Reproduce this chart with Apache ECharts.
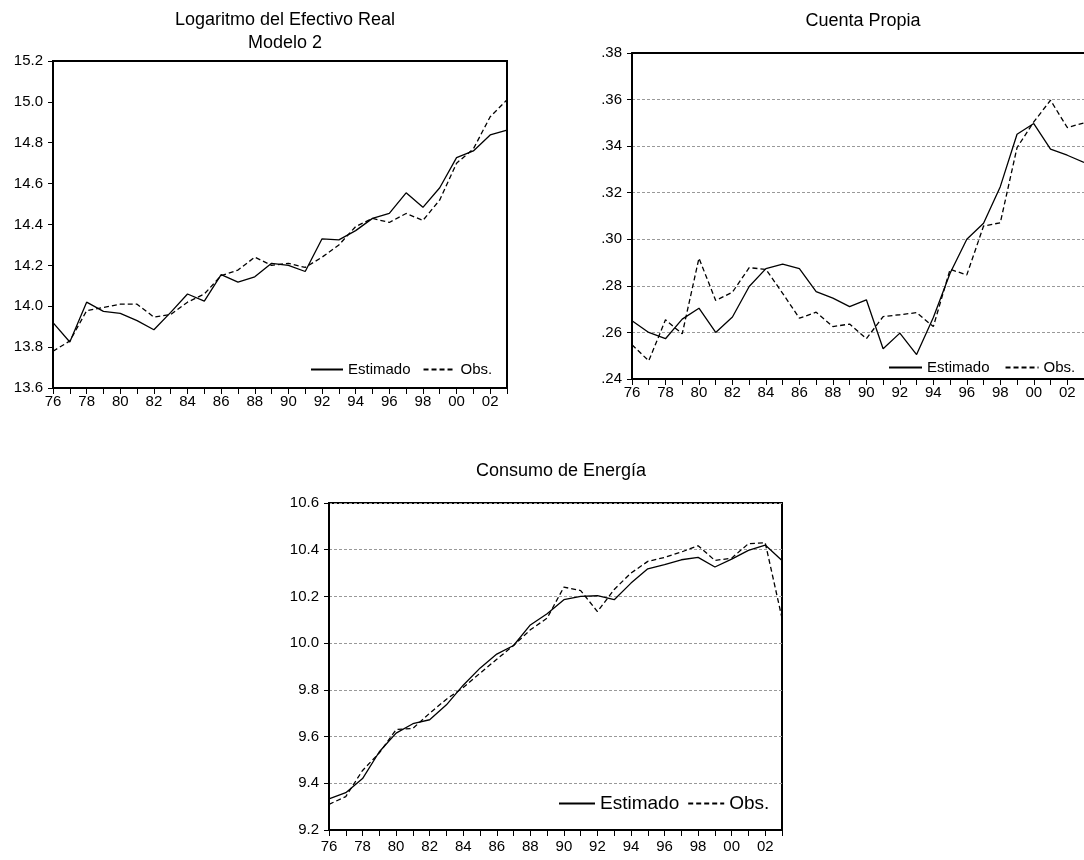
<!DOCTYPE html>
<html>
<head>
<meta charset="utf-8">
<script src="https://cdn.jsdelivr.net/npm/echarts@6/dist/echarts.min.js"></script>
<style>
html,body{margin:0;padding:0;background:#fff;}
#main{width:1084px;height:860px;}
</style>
</head>
<body>
<div id="main"></div>
<script>
var years = ['76','77','78','79','80','81','82','83','84','85','86','87','88','89','90','91','92','93','94','95','96','97','98','99','00','01','02','03'];

/* Logaritmo del Efectivo Real - Modelo 2 */
var efEst = [13.92,13.825,14.02,13.975,13.965,13.93,13.885,13.97,14.06,14.025,14.155,14.118,14.144,14.21,14.20,14.17,14.33,14.325,14.37,14.43,14.454,14.555,14.484,14.58,14.727,14.76,14.838,14.862];
var efObs = [13.78,13.83,13.978,13.994,14.01,14.01,13.947,13.96,14.02,14.06,14.15,14.177,14.24,14.20,14.21,14.19,14.24,14.30,14.39,14.43,14.41,14.454,14.42,14.52,14.70,14.77,14.927,15.01];

/* Cuenta Propia */
var cpEst = [0.265,0.260,0.2573,0.2657,0.2704,0.260,0.2666,0.2797,0.2874,0.2893,0.2874,0.2775,0.2747,0.2711,0.274,0.253,0.2597,0.2505,0.2664,0.2854,0.300,0.3069,0.3226,0.3451,0.3497,0.3387,0.3361,0.333];
var cpObs = [0.2547,0.2478,0.2654,0.2594,0.2919,0.2737,0.2773,0.2878,0.2871,0.2768,0.2661,0.2687,0.2625,0.2636,0.2573,0.2668,0.2676,0.2685,0.2625,0.2871,0.2847,0.3057,0.3071,0.3394,0.3504,0.3597,0.348,0.350];

/* Consumo de Energía */
var ceEst = [9.333,9.36,9.42,9.535,9.615,9.655,9.672,9.736,9.82,9.893,9.953,9.99,10.078,10.126,10.186,10.20,10.203,10.186,10.257,10.318,10.336,10.357,10.367,10.326,10.36,10.397,10.42,10.354];
var ceObs = [9.31,9.343,9.455,9.53,9.63,9.635,9.70,9.76,9.81,9.871,9.931,9.99,10.057,10.107,10.24,10.225,10.135,10.23,10.30,10.35,10.367,10.39,10.417,10.354,10.364,10.426,10.43,10.107];

var fontFam = 'Liberation Sans, Arial, sans-serif';

function xAxisFor(idx,lblMargin){
	return {
		type:'category',
		gridIndex:idx,
		data:years,
		boundaryGap:false,
		axisLine:{lineStyle:{color:'#000',width:2}},
		axisTick:{show:true,interval:0,length:6,lineStyle:{color:'#000',width:1}},
		axisLabel:{interval:1,margin:lblMargin,color:'#000',fontSize:15,fontFamily:fontFam},
		splitLine:{show:false}
	};
}
function yAxisFor(idx,min,max,step,dec,grid,noZero){
	return {
		type:'value',
		gridIndex:idx,
		min:min,max:max,interval:step,
		axisLine:{show:true,lineStyle:{color:'#000',width:2}},
		axisTick:{show:true,length:5,lineStyle:{color:'#000',width:1}},
		axisLabel:{margin:10,color:'#000',fontSize:15,fontFamily:fontFam,
			formatter:function(v){
				var s = v.toFixed(dec);
				if(noZero){ s = s.replace(/^0/,''); }
				return s;
			}},
		splitLine:{show:grid,lineStyle:{color:'#999',type:[3,2],width:1}}
	};
}
function lineSeries(name,idx,data,dashed){
	return {
		name:name,
		type:'line',
		xAxisIndex:idx,
		yAxisIndex:idx,
		data:data,
		symbol:'none',
		silent:true,
		itemStyle:{color:'#000'},
		lineStyle:{color:'#000',width:1.3,type:dashed ? [5,3] : 'solid'}
	};
}
function legendFor(left,top,w,size,gap){
	return {
		data:['Estimado','Obs.'],left:left,top:top,itemWidth:w,itemHeight:14,itemGap:gap,
		selectedMode:false,
		itemStyle:{opacity:0},
		textStyle:{fontSize:size,color:'#000',fontFamily:fontFam}
	};
}

var dom = document.getElementById('main');
var myChart = echarts.init(dom);
var option = {
	animation:false,
	backgroundColor:'#fff',
	title:[
		{text:'Logaritmo del Efectivo Real\nModelo 2',left:280,top:4,textAlign:'center',
			textStyle:{fontSize:18,fontWeight:'normal',color:'#000',fontFamily:fontFam,lineHeight:23}},
		{text:'Cuenta Propia',left:858,top:7,textAlign:'center',
			textStyle:{fontSize:18,fontWeight:'normal',color:'#000',fontFamily:fontFam}},
		{text:'Consumo de Energía',left:556,top:457,textAlign:'center',
			textStyle:{fontSize:18,fontWeight:'normal',color:'#000',fontFamily:fontFam}}
	],
	legend:[
		legendFor(305,357,32,15,12),
		legendFor(883,355,33,15,15),
		legendFor(553,789,36,19,8)
	],
	grid:[
		{left:53,top:61,width:454,height:327,show:true,borderColor:'#000',borderWidth:2,backgroundColor:'transparent'},
		{left:632,top:53,width:453,height:326,show:false},
		{left:329,top:503,width:453,height:327,show:true,borderColor:'#000',borderWidth:2,backgroundColor:'transparent'}
	],
	xAxis:[
		xAxisFor(0,6),xAxisFor(1,6),xAxisFor(2,9),
		// top frame line of the cropped Cuenta Propia panel
		{type:'category',gridIndex:1,position:'top',data:years,boundaryGap:false,
			axisLine:{lineStyle:{color:'#000',width:2}},axisTick:{show:false},axisLabel:{show:false},splitLine:{show:false}}
	],
	yAxis:[
		yAxisFor(0,13.6,15.2,0.2,1,false,false),
		yAxisFor(1,0.24,0.38,0.02,2,true,true),
		yAxisFor(2,9.2,10.6,0.2,1,true,false)
	],
	series:[
		lineSeries('Estimado',0,efEst,false),
		lineSeries('Obs.',0,efObs,true),
		lineSeries('Estimado',1,cpEst,false),
		lineSeries('Obs.',1,cpObs,true),
		lineSeries('Estimado',2,ceEst,false),
		lineSeries('Obs.',2,ceObs,true)
	]
};
if (option && typeof option === "object") {
	myChart.setOption(option, true);
}
</script>
</body>
</html>
